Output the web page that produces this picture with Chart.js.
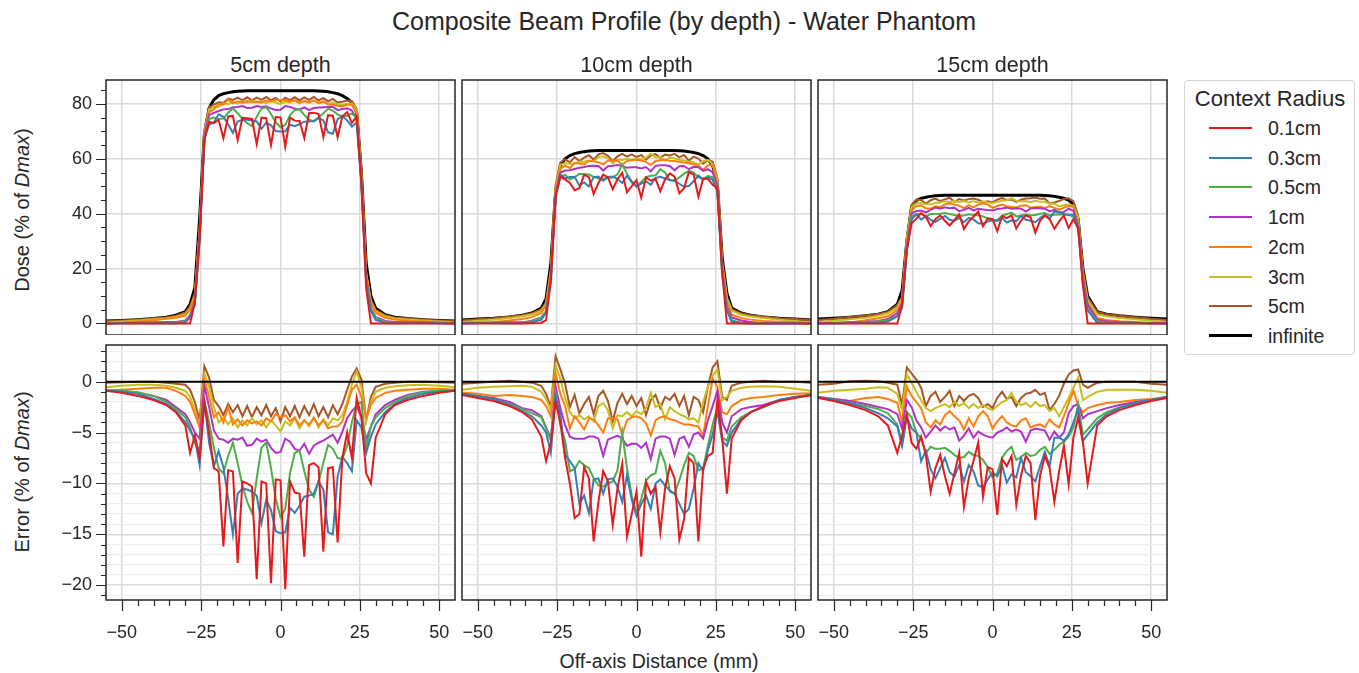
<!DOCTYPE html>
<html>
<head>
<meta charset="utf-8">
<title>Composite Beam Profile</title>
<script src="https://cdn.jsdelivr.net/npm/chart.js@4.4.1/dist/chart.umd.min.js"></script>
<style>
  body { margin: 0; background: #fff; }
  #fig { position: relative; width: 1359px; height: 673px; overflow: hidden;
         font-family: "Liberation Sans", Arial, sans-serif; color: #262626; }
  #fig canvas { position: absolute; }
  .txt { position: absolute; white-space: nowrap; transform: translate(-50%, -50%); }
  .rot { transform: translate(-50%, -50%) rotate(-90deg); }
  #legend { position: absolute; left: 1184px; top: 80px; width: 169px; height: 273px;
            border: 1px solid #d4d4d4; border-radius: 4px; background: #fff; }
  #legend .sw { position: absolute; left: 24px; width: 43px; }
  #legend .lab { position: absolute; left: 83px; font-size: 19.5px; transform: translateY(-50%); }
</style>
</head>
<body>
<div id="fig">
  <div class="txt" style="left:684px;top:21px;font-size:25px">Composite Beam Profile (by depth) - Water Phantom</div>
  <div class="txt rot" style="left:22px;top:210px;font-size:20px">Dose (% of <i>Dmax</i>)</div>
  <div class="txt rot" style="left:22px;top:472px;font-size:20px">Error (% of <i>Dmax</i>)</div>
  <div class="txt" style="left:659px;top:661px;font-size:19.5px">Off-axis Distance (mm)</div>
  <div id="legend"></div>
</div>

<script>
// off-axis positions (mm) shared by every curve
const offAxis = [
  -55, -50, -45, -40, -36, -33, -30, -28.5, -27, -25.5, -24, -22.5, -21,
  -19.5, -18, -16.5, -15, -13.5, -12, -10.5, -9, -7.5, -6, -4.5, -3, -1.5,
  0, 1.5, 3, 4.5, 6, 7.5, 9, 10.5, 12, 13.5, 15, 16.5, 18,
  19.5, 21, 22.5, 24, 25.5, 27, 28.5, 30, 33, 36, 40, 45, 50, 55
];

const radii = ['0.1cm', '0.3cm', '0.5cm', '1cm', '2cm', '3cm', '5cm', 'infinite'];
const radiusColors = ['#e41a1c', '#377eb8', '#4daf4a', '#b232c8', '#ff7f0e', '#c8be1e', '#a65628', '#000000'];
const depthTitles = ['5cm depth', '10cm depth', '15cm depth'];

// ---- 5cm depth: dose (% of Dmax) ----
const dose5_01 = [0,0,0,0,0,0,0,0,7.7,30.5,67,73.5,73,
  74.2,67.5,75.4,75.6,66.8,74.9,74.8,74.5,65.4,75,74.8,65,75.2,
  75.1,64.4,75,73.9,73.8,67.6,76.6,76.8,76.3,67.9,75.9,75.7,67.9,
  75.5,77,73,75.4,51.5,13,0,0,0,0,0,0,0,0];
const dose5_03 = [0,0.1,0.2,0.1,0.1,0.1,0.3,2.2,7.4,29.8,67.1,72.5,73.2,
  76.2,75.3,72.6,69.4,73.6,74.2,74.2,74,73.6,70.9,73.2,72.2,70.1,
  69.9,70,72.4,71.9,72.6,73.5,73.6,73.8,74.9,74,69.6,69.1,74.4,
  75.6,74,71.7,73.2,50.5,15,4.6,1.3,0.2,0.1,0.2,0.2,0.1,0];
const dose5_05 = [0.05,0.2,0.35,0.4,0.3,0.3,0.8,2.5,7,31.2,67.2,74.5,75,
  74.5,74.7,76.8,78.4,76.6,74.5,73,71.9,75.3,78.3,78.8,76.3,73.3,
  71.5,72.3,75.8,77.8,78,76,74.2,73.5,74.9,76.6,78.2,77.5,76.2,
  75.4,75.7,76.5,74.8,53,15.4,5.6,2,0.6,0.3,0.4,0.35,0.2,0.05];
const dose5_1 = [0,0.2,0.3,0.4,0.5,0.5,1.1,3,8,32.4,68.6,76,76.7,
  77.4,78,78.1,78.8,78.9,79.2,78.5,78.6,79.2,78.9,79.1,78.3,77.8,
  77.9,79.2,78.9,78.2,78,78.7,77.7,78.5,78.7,78.8,78.9,78.9,77.7,
  78.1,78.4,77.6,74.6,51.5,16.3,5.6,2.3,0.9,0.5,0.5,0.4,0.2,0];
const dose5_2 = [0,0.3,0.7,1.2,1.7,2.1,2.9,5,9.8,33.5,69.2,77,78,
  80,79.7,81.6,80.2,80.9,80.4,81,80.7,80.9,80.5,81.2,80.9,81.6,
  81.3,81.5,80.9,81.3,80.5,81,80.6,81.2,80.4,80.8,79.8,79.7,79.3,
  79.1,79.7,79.7,76.7,53.5,18.5,7.7,3.9,2.1,1.4,1,0.7,0.4,0.1];
const dose5_3 = [0.35,0.7,1.1,1.5,1.9,2.4,3.4,5.5,10.2,33.6,69.8,78,79,
  79,80.2,79.9,80.8,80.1,80.9,80.5,81.2,80.6,81,80.3,81,80.5,
  79.9,80.9,80.5,81.2,80.2,81,80.4,81.3,80.2,80.9,80.1,80.5,79.9,
  79.7,80,80.2,78,54.5,18.1,8,4.5,2.6,1.85,1.45,1.1,0.7,0.35];
const dose5_5 = [0.8,1.05,1.4,1.8,2.2,2.8,4,6.2,11,34.2,70.5,78.9,79.7,
  80.6,80.4,81.9,81.4,82.3,81.3,82.4,81.3,82.3,81.5,82.5,81.4,82.2,
  80.9,82.3,81.4,82.4,81.3,82.4,81.5,82.5,81.3,82.1,80.9,81.8,80.5,
  80.8,81.2,81,78.3,55.2,18.2,8.5,5,3,2.2,1.8,1.4,1.05,0.8];
const dose5_inf = [0.9,1.1,1.4,1.8,2.3,3.0,4.3,7,13,38,69,78.5,81.5,
  83,83.7,84.1,84.4,84.6,84.7,84.8,84.8,84.8,84.8,84.8,84.8,84.8,
  84.8,84.8,84.8,84.8,84.8,84.8,84.8,84.8,84.7,84.6,84.4,84.1,83.7,
  83.0,82.0,80.5,77,55,22,10,5.5,3.2,2.3,1.8,1.4,1.1,0.9];

// ---- 5cm depth: error (% of Dmax) ----
const err5_01 = [-0.9,-1.1,-1.4,-1.8,-2.3,-3.0,-4.3,-7.0,-5.3,-7.5,-2.0,-5.0,-8.5,
  -8.8,-16.2,-8.7,-8.8,-17.8,-9.8,-10.0,-10.3,-19.4,-9.8,-10.0,-19.8,-9.6,
  -9.7,-20.4,-9.8,-10.9,-11.0,-17.2,-8.2,-8.0,-8.4,-16.7,-8.5,-8.4,-15.8,
  -7.5,-5.0,-7.5,-1.6,-3.5,-9.0,-10.0,-5.5,-3.2,-2.3,-1.8,-1.4,-1.1,-0.9];
const err5_03 = [-0.9,-1.0,-1.2,-1.7,-2.2,-2.9,-4.0,-4.8,-5.6,-8.2,-1.9,-6.0,-8.3,
  -6.8,-8.4,-11.5,-15.0,-11.0,-10.5,-10.6,-10.8,-11.2,-13.9,-11.6,-12.6,-14.7,
  -14.9,-14.8,-12.4,-12.9,-12.2,-11.3,-11.2,-11.0,-9.8,-10.6,-14.8,-15.0,-9.3,
  -7.4,-8.0,-8.8,-3.8,-4.5,-7.0,-5.4,-4.2,-3.0,-2.2,-1.6,-1.2,-1.0,-0.9];
const err5_05 = [-0.85,-0.9,-1.05,-1.4,-2.0,-2.7,-3.5,-4.5,-6.0,-6.8,-1.8,-4.0,-6.5,
  -8.5,-9.0,-7.3,-6.0,-8.0,-10.2,-11.8,-12.9,-9.5,-6.5,-6.0,-8.5,-11.5,
  -13.3,-12.5,-9.0,-7.0,-6.8,-8.8,-10.6,-11.3,-9.8,-8.0,-6.2,-6.6,-7.5,
  -7.6,-6.3,-4.0,-2.2,-2.0,-6.6,-4.4,-3.5,-2.6,-2.0,-1.4,-1.05,-0.9,-0.85];
const err5_1 = [-0.9,-0.9,-1.1,-1.4,-1.8,-2.5,-3.2,-4.0,-5.0,-5.6,-0.4,-2.5,-4.8,
  -5.6,-5.7,-6.0,-5.6,-5.7,-5.5,-6.3,-6.2,-5.6,-5.9,-5.7,-6.5,-7.0,
  -6.9,-5.6,-5.9,-6.6,-6.8,-6.1,-7.1,-6.3,-6.0,-5.8,-5.5,-5.2,-6.0,
  -4.9,-3.6,-2.9,-2.4,-3.5,-5.7,-4.4,-3.2,-2.3,-1.8,-1.3,-1.0,-0.9,-0.9];
const err5_2 = [-0.9,-0.8,-0.7,-0.6,-0.6,-0.9,-1.4,-2.0,-3.2,-4.5,0.2,-1.5,-3.5,
  -3.0,-4.0,-2.5,-4.2,-3.7,-4.3,-3.8,-4.1,-3.9,-4.3,-3.6,-3.9,-3.2,
  -3.5,-3.3,-3.9,-3.5,-4.3,-3.8,-4.2,-3.6,-4.3,-3.8,-4.6,-4.4,-4.4,
  -3.9,-2.3,-0.8,-0.3,-1.5,-3.5,-2.3,-1.6,-1.1,-0.9,-0.8,-0.7,-0.7,-0.8];
const err5_3 = [-0.55,-0.4,-0.3,-0.3,-0.4,-0.6,-0.9,-1.5,-2.8,-4.4,0.8,-0.5,-2.5,
  -4.0,-3.5,-4.2,-3.6,-4.5,-3.8,-4.3,-3.6,-4.2,-3.8,-4.5,-3.8,-4.3,
  -4.9,-3.9,-4.3,-3.6,-4.6,-3.8,-4.4,-3.5,-4.5,-3.7,-4.3,-3.6,-3.8,
  -3.3,-2.0,-0.3,1.0,-0.5,-3.9,-2.0,-1.0,-0.6,-0.45,-0.35,-0.3,-0.4,-0.55];
const err5_5 = [-0.1,-0.05,0,0,-0.1,-0.2,-0.3,-0.8,-2.0,-3.8,1.5,0.4,-1.8,
  -2.4,-3.3,-2.2,-3.0,-2.3,-3.4,-2.4,-3.5,-2.5,-3.3,-2.3,-3.4,-2.6,
  -3.9,-2.5,-3.4,-2.4,-3.5,-2.4,-3.3,-2.2,-3.4,-2.5,-3.5,-2.3,-3.2,
  -2.2,-0.8,0.5,1.3,0.2,-3.8,-1.5,-0.5,-0.2,-0.1,0,0,-0.05,-0.1];

// ---- 10cm depth: dose ----
const dose10_01 = [0,0,0,0,0,0.1,0.2,1.2,16,46,53.5,52.5,51.2,
  48.5,49.3,54.2,53.3,47.2,51.2,54.2,53.2,48.9,52.5,54.9,47.8,50,
  52.2,45.8,53.2,52,52.7,48.2,52.5,54.7,53.5,47.4,49.3,55.1,54.3,
  46.2,52.7,52.7,50.5,49.2,18.5,0,0,0,0,0,0,0,0];
const dose10_03 = [0.1,0.2,0.2,0.1,0.1,0.4,1.3,4,15,46.5,54.3,52.8,53.4,
  53.4,50.3,51.4,49.9,53.3,53.5,52,53.4,53.5,52.7,51.2,53.8,51.4,
  49.8,51,51.8,50.5,53,53.4,52.8,52.3,52,50.9,49.8,50.1,51.8,
  53.9,52.4,53.3,52.3,48.1,18.2,4.7,0.6,0.1,0,0,0.1,0.1,0];
const dose10_05 = [0.1,0.2,0.2,0.2,0.3,0.7,2.1,4.4,16.2,46.8,53.2,54.2,52.4,
  53.3,54.5,54.4,54.3,53.4,52.8,52.7,53,53.2,54.3,58,54.5,51.8,
  50.1,51.5,53.3,53.8,54,56.2,55,52.2,52,53.2,54.6,55.6,55,
  53.2,52.7,53.7,53.3,48.5,18.5,5.2,1.2,0.3,0,0,0.1,0.1,0];
const dose10_1 = [0.1,0.2,0.3,0.4,0.4,1.0,2.2,4.5,16.4,47.5,54.9,55.7,55.8,
  56.3,56.7,57,57.4,57.5,57.4,55.7,57.3,57.5,57.7,57.4,56.7,56.9,
  56.9,56.5,57,55.4,57.4,57.6,57.6,57.4,55.8,57.3,57.4,56.2,57.1,
  56.9,55.6,56.2,55.1,50.1,20,6,2.2,1.1,0.5,0.1,0.1,0.1,0];
const dose10_2 = [0.2,0.4,0.5,1.1,1.6,2.3,3.8,6.6,18.6,48.8,56.3,57.6,56.6,
  58.5,58.3,57.9,59.2,59.2,58.7,58,59.4,59.4,59.3,57.8,59.2,59.5,
  59.6,59.4,58.9,57.7,59.2,59.5,59.6,59.3,59.2,58.9,58.6,58.4,58,
  57.5,55.9,57.6,57.8,50.5,21,7.8,3.2,2,1.4,0.9,0.6,0.4,0.15];
const dose10_3 = [0.5,1.0,1.4,1.95,2.6,3.3,4.6,7.3,19.2,49.6,57.8,58.4,58.2,
  58.3,59,58.9,59.4,59,60.6,60.9,60.2,58.4,59.7,59.6,60,59.6,
  60.1,59.8,60.4,61.9,60.5,60.8,59.3,60.5,60.1,59.7,59.4,58.9,58.7,
  57.9,59.2,59.5,58.1,52.2,22.2,9.5,4.7,3.2,2.5,1.95,1.4,0.9,0.4];
const dose10_5 = [1.1,1.5,1.9,2.5,3.0,3.7,5.2,7.8,19.5,50.5,58.7,59.8,58.7,
  60.6,59.2,60.4,61.3,59.7,61.6,62.1,61.1,59.1,60.9,61.8,60.8,61.6,
  60.6,61.4,59.7,61.2,61.7,60.4,61.5,61.2,61.8,60.5,61.4,59.3,60.8,
  60.1,58.2,59.5,58.9,53,22.5,9.2,5.2,3.7,3.0,2.5,1.9,1.6,1.2];
const dose10_inf = [1.3,1.6,1.9,2.4,3.0,3.8,5.6,9,22,48,57.5,60,61.2,
  61.9,62.3,62.6,62.8,62.9,63,63,63,63,63,63,63,63,
  63,63,63,63,63,63,63,63,63,62.9,62.8,62.6,62.3,
  61.9,61.2,60,57.5,51,24,11,5.6,3.8,3.0,2.4,1.9,1.6,1.3];

// ---- 10cm depth: error ----
const err10_01 = [-1.3,-1.6,-1.9,-2.4,-3.0,-3.7,-5.4,-7.8,-6.0,-2.0,-4.0,-7.5,-10.0,
  -13.4,-13.0,-8.4,-9.5,-15.7,-11.8,-8.8,-9.8,-14.1,-10.5,-8.1,-15.2,-13.0,
  -10.8,-17.2,-9.8,-11.0,-10.3,-14.8,-10.5,-8.3,-9.5,-15.5,-13.5,-7.5,-8.0,
  -15.7,-8.5,-7.3,-7.0,-1.8,-5.5,-11.0,-5.6,-3.8,-3.0,-2.4,-1.9,-1.6,-1.3];
const err10_03 = [-1.2,-1.4,-1.7,-2.3,-2.9,-3.4,-4.3,-5.0,-7.0,-1.5,-3.2,-7.2,-7.8,
  -8.5,-12.0,-11.2,-12.9,-9.6,-9.5,-11.0,-9.6,-9.5,-10.3,-11.8,-9.2,-11.6,
  -13.2,-12.0,-11.2,-12.5,-10.0,-9.6,-10.2,-10.7,-11.0,-12.0,-13.0,-12.5,-10.5,
  -8.0,-8.8,-6.7,-5.2,-2.9,-5.8,-6.3,-5.0,-3.7,-3.0,-2.5,-1.8,-1.5,-1.3];
const err10_05 = [-1.2,-1.4,-1.7,-2.2,-2.7,-3.1,-3.5,-4.6,-5.8,-1.2,-4.3,-5.8,-8.8,
  -8.6,-7.8,-8.2,-8.5,-9.5,-10.2,-10.3,-10.0,-9.8,-8.7,-5.0,-8.5,-11.2,
  -12.9,-11.5,-9.7,-9.2,-9.0,-6.8,-8.0,-10.8,-11.0,-9.7,-8.2,-7.0,-7.3,
  -8.7,-8.5,-6.3,-4.2,-2.5,-5.5,-5.8,-4.4,-3.5,-3.0,-2.5,-1.8,-1.5,-1.3];
const err10_1 = [-1.2,-1.4,-1.6,-2.0,-2.6,-2.8,-3.4,-4.5,-5.6,-0.5,-2.6,-4.3,-5.4,
  -5.6,-5.6,-5.6,-5.4,-5.4,-5.6,-7.3,-5.7,-5.5,-5.3,-5.6,-6.3,-6.1,
  -6.1,-6.5,-6.0,-7.6,-5.6,-5.4,-5.4,-5.6,-7.2,-5.6,-5.4,-6.4,-5.2,
  -5.0,-5.6,-3.8,-2.4,-0.9,-4.0,-5.0,-3.4,-2.7,-2.5,-2.3,-1.8,-1.5,-1.3];
const err10_2 = [-1.1,-1.2,-1.4,-1.3,-1.4,-1.5,-1.8,-2.4,-3.4,0.8,-1.2,-2.4,-4.6,
  -3.4,-4.0,-4.7,-3.6,-3.7,-4.3,-5.0,-3.6,-3.6,-3.7,-5.2,-3.8,-3.5,
  -3.4,-3.6,-4.1,-5.3,-3.8,-3.5,-3.4,-3.7,-3.8,-4.0,-4.2,-4.2,-4.3,
  -4.4,-5.3,-2.4,0.3,-0.5,-3.0,-3.2,-2.4,-1.8,-1.6,-1.5,-1.3,-1.2,-1.15];
const err10_3 = [-0.8,-0.6,-0.5,-0.45,-0.4,-0.5,-1.0,-1.7,-2.8,1.6,0.3,-1.6,-3.0,
  -3.6,-3.3,-3.7,-3.4,-3.9,-2.4,-2.1,-2.8,-4.6,-3.3,-3.4,-3.0,-3.4,
  -2.9,-3.2,-2.6,-1.1,-2.5,-2.2,-3.7,-2.5,-2.9,-3.2,-3.4,-3.7,-3.6,
  -4.0,-2.0,-0.5,0.6,1.2,-1.8,-1.5,-0.9,-0.6,-0.5,-0.45,-0.5,-0.7,-0.9];
const err10_5 = [-0.2,-0.1,0,0.1,0,-0.1,-0.4,-1.2,-2.5,2.5,1.2,-0.2,-2.5,
  -1.3,-3.1,-2.2,-1.5,-3.2,-1.4,-0.9,-1.9,-3.9,-2.1,-1.2,-2.2,-1.4,
  -2.4,-1.6,-3.3,-1.8,-1.3,-2.6,-1.5,-1.8,-1.2,-2.4,-1.4,-3.3,-1.5,
  -1.8,-3.0,-0.5,1.4,2.0,-1.5,-1.8,-0.4,-0.1,0,0.1,0,0,-0.1];

// ---- 15cm depth: dose ----
const dose15_01 = [0,0,0,0,0,0,0,6.7,26.8,36.5,38.2,40.2,38.8,
  35.5,38,39.4,37.4,35.7,37.7,39.7,34.4,37.2,38.9,40.7,35.4,38.3,
  38.1,33.6,39.1,38.4,39.4,34.6,37.5,39.4,38.7,33.1,37.5,39.3,38,
  34.5,37.2,39.3,34.8,38,34.5,14,0,0,0,0,0,0,0];
const dose15_03 = [0.1,0.1,0.2,0.2,0.3,0.7,2.6,5.7,26.5,37.9,39.8,37.8,39.2,
  37.7,37,38.1,39.2,37.8,37.4,38.5,36.9,38.5,37.9,36.5,36.3,37.1,
  37.8,37.4,38.5,36.8,37.6,37.3,39.2,37.8,37.4,36.9,38.4,39.7,38.2,
  40.8,40.5,39.8,39.7,39.5,35.2,14.2,4.8,0.3,0.2,0.2,0.2,0.1,0.1];
const dose15_05 = [0.1,0.1,0.2,0.4,0.7,1.2,2.8,5.8,27,39,39.8,40,39,
  39.9,39.9,40,40.2,39.9,39.5,39.2,39.3,39.8,39.5,39.4,39,38.3,
  37.3,37.7,39.2,39.9,40.3,39,39.3,39.7,39.4,39.5,40,40.2,39.4,
  39.6,39.8,39.7,39.5,39,35.8,14.8,5.3,0.7,0.4,0.3,0.2,0.1,0.1];
const dose15_1 = [0.1,0.2,0.4,0.6,0.9,1.6,3.8,7.4,28.2,40,41,41.1,40.5,
  41.4,42.2,41.8,42.3,42,42.2,40.9,41.4,42.1,41.2,41.8,41.5,41.3,
  41.2,41.7,41.9,42.2,41.8,42,41.8,40.8,41.9,42.1,42,41.8,40.8,
  41.4,40.5,40.6,41.8,41.1,35.8,16.4,6.8,1.4,0.8,0.5,0.3,0.1,0.1];
const dose15_2 = [0.1,0.2,0.4,1.2,1.9,2.6,4.9,8,29.5,41.1,42.8,43,42,
  41.8,42.7,42.4,43.4,43.8,43.3,42.9,42,43.1,42.3,43.3,43.8,43.3,
  42.1,42.8,43.3,42.7,42.4,42.3,42.9,43.1,42.2,42.4,42.5,42.1,42.8,
  42.1,41.5,42.2,42.8,42.6,35.7,17,7.4,2,1.3,0.8,0.5,0.2,0.1];
const dose15_3 = [0.5,1.0,1.5,2.1,2.85,3.7,5.8,9.2,30.7,42.4,43.8,43.8,43.4,
  43.4,43.9,44.2,44.5,44.2,44.7,44.3,44.6,44.1,44.5,44.1,44.4,44.1,
  43.9,44.3,44.7,44.9,45.6,44.7,44.4,44.6,44.2,44.7,44.3,44.3,43.6,
  43.7,42.6,43.1,43.3,42.9,38.4,18.2,8.5,3.3,2.6,2.0,1.5,1.0,0.5];
const dose15_5 = [1.3,1.7,2.35,2.9,3.45,4.2,6.7,9.7,31.4,43.3,45,45,43.6,
  44.9,45.5,44.6,45.2,45.8,44.3,45.3,44.8,45.3,45.5,45.1,44.2,44.5,
  44.1,45.1,45.7,45,45.2,44.3,45.1,45.5,45.6,45.9,45.4,45.5,43.7,
  44.1,44.6,45.4,45.6,44.6,39.2,19.7,9.4,4.2,3.4,2.8,2.3,1.7,1.3];
const dose15_inf = [1.6,1.9,2.3,2.8,3.4,4.3,7.0,12,30,42.5,44.8,45.6,46.0,
  46.3,46.5,46.6,46.7,46.7,46.7,46.7,46.7,46.7,46.7,46.7,46.7,46.7,
  46.7,46.7,46.7,46.7,46.7,46.7,46.7,46.7,46.7,46.7,46.7,46.6,46.5,
  46.3,46.0,45.6,44.9,43.5,38,20,10,4.3,3.4,2.8,2.3,1.9,1.6];

// ---- 15cm depth: error ----
const err15_01 = [-1.6,-1.9,-2.3,-2.8,-3.4,-4.3,-7.0,-5.3,-3.2,-6.0,-6.6,-5.4,-7.2,
  -10.8,-8.5,-7.2,-9.3,-11.0,-9.0,-7.0,-12.3,-9.5,-7.8,-6.0,-11.3,-8.4,
  -8.6,-13.1,-7.6,-8.3,-7.3,-12.1,-9.2,-7.3,-8.0,-13.6,-9.2,-7.3,-8.5,
  -11.8,-8.8,-6.3,-10.1,-5.5,-3.5,-6.0,-10.0,-4.3,-3.4,-2.8,-2.3,-1.9,-1.6];
const err15_03 = [-1.5,-1.8,-2.1,-2.6,-3.1,-3.6,-4.4,-6.3,-3.5,-4.6,-5.0,-7.8,-6.8,
  -8.6,-9.5,-8.5,-7.5,-8.9,-9.3,-8.2,-9.8,-8.2,-8.8,-10.2,-10.4,-9.6,
  -8.9,-9.3,-8.2,-9.9,-9.1,-9.4,-7.5,-8.9,-9.3,-9.8,-8.3,-6.9,-8.3,
  -5.5,-5.5,-5.8,-5.2,-4.0,-2.8,-5.8,-5.2,-4.0,-3.2,-2.6,-2.1,-1.8,-1.5];
const err15_05 = [-1.5,-1.8,-2.1,-2.4,-2.7,-3.1,-4.2,-6.2,-3.0,-3.5,-5.0,-5.6,-7.0,
  -6.4,-6.6,-6.6,-6.5,-6.8,-7.2,-7.5,-7.4,-6.9,-7.2,-7.3,-7.7,-8.4,
  -9.4,-9.0,-7.5,-6.8,-6.4,-7.7,-7.4,-7.0,-7.3,-7.2,-6.7,-6.4,-7.1,
  -6.7,-6.2,-5.9,-5.4,-4.5,-2.2,-5.2,-4.7,-3.6,-3.0,-2.5,-2.1,-1.8,-1.5];
const err15_1 = [-1.5,-1.7,-1.9,-2.2,-2.5,-2.7,-3.2,-4.6,-1.8,-2.5,-3.8,-4.5,-5.5,
  -4.9,-4.3,-4.8,-4.4,-4.7,-4.5,-5.8,-5.3,-4.6,-5.5,-4.9,-5.2,-5.4,
  -5.5,-5.0,-4.8,-4.5,-4.9,-4.7,-4.9,-5.9,-4.8,-4.6,-4.7,-4.8,-5.7,
  -4.9,-5.5,-5.0,-3.1,-2.4,-2.2,-3.6,-3.2,-2.9,-2.6,-2.3,-2.0,-1.8,-1.5];
const err15_2 = [-1.5,-1.7,-1.9,-1.6,-1.5,-1.7,-2.1,-4.0,-0.5,-1.4,-2.0,-2.6,-4.0,
  -4.5,-3.8,-4.2,-3.3,-2.9,-3.4,-3.8,-4.7,-3.6,-4.4,-3.4,-2.9,-3.4,
  -4.6,-3.9,-3.4,-4.0,-4.3,-4.4,-3.8,-3.6,-4.5,-4.3,-4.2,-4.5,-3.7,
  -4.2,-4.5,-3.4,-2.1,-0.9,-2.3,-3.0,-2.6,-2.3,-2.1,-2.0,-1.8,-1.7,-1.5];
const err15_3 = [-1.1,-0.9,-0.8,-0.7,-0.55,-0.6,-1.2,-2.8,0.7,-0.1,-1.0,-1.8,-2.6,
  -2.9,-2.6,-2.4,-2.2,-2.5,-2.0,-2.4,-2.1,-2.6,-2.2,-2.6,-2.3,-2.6,
  -2.8,-2.4,-2.0,-1.8,-1.1,-2.0,-2.3,-2.1,-2.5,-2.0,-2.4,-2.3,-2.9,
  -2.6,-3.4,-2.5,-1.6,-0.6,0.4,-1.8,-1.5,-1.0,-0.8,-0.8,-0.8,-0.9,-1.1];
const err15_5 = [-0.3,-0.2,0.05,0.1,0.05,-0.1,-0.3,-2.3,1.4,0.8,0.2,-0.6,-2.4,
  -1.4,-1.0,-2.0,-1.5,-0.9,-2.4,-1.4,-1.9,-1.4,-1.2,-1.6,-2.5,-2.2,
  -2.6,-1.6,-1.0,-1.7,-1.5,-2.4,-1.6,-1.2,-1.1,-0.8,-1.3,-1.1,-2.8,
  -2.2,-1.4,-0.2,0.7,1.1,1.2,-0.3,-0.6,-0.1,0,0,0,-0.2,-0.3];

// the infinite-radius reference has zero error everywhere
const errInfX = [-55, 55];
const errInf = [0, 0];

// axis ticks
const xMajor = [-50, -25, 0, 25, 50];
const xMinor = [-45, -40, -35, -30, -20, -15, -10, -5, 5, 10, 15, 20, 30, 35, 40, 45];
const doseMajor = [0, 20, 40, 60, 80];
const doseMinor = [5, 10, 15, 25, 30, 35, 45, 50, 55, 65, 70, 75, 85];
const errMajor = [-20, -15, -10, -5, 0];
const errMinor = [-21, -19, -18, -17, -16, -14, -13, -12, -11, -9, -8, -7, -6, -4, -3, -2, -1, 1, 2, 3];

const doseSets = [
  [dose5_01, dose5_03, dose5_05, dose5_1, dose5_2, dose5_3, dose5_5, dose5_inf],
  [dose10_01, dose10_03, dose10_05, dose10_1, dose10_2, dose10_3, dose10_5, dose10_inf],
  [dose15_01, dose15_03, dose15_05, dose15_1, dose15_2, dose15_3, dose15_5, dose15_inf]
];
const errSets = [
  [err5_01, err5_03, err5_05, err5_1, err5_2, err5_3, err5_5],
  [err10_01, err10_03, err10_05, err10_1, err10_2, err10_3, err10_5],
  [err15_01, err15_03, err15_05, err15_1, err15_2, err15_3, err15_5]
];

// panel frames on the page
const colLeft = [106, 462, 818];
const rowTop = [80, 345];
const panelW = 349, panelH = 255;
const axisW = 60, axisH = 45;

const INK = '#262626';
const FONT = '"Liberation Sans", Arial, sans-serif';
const fmt = v => (v < 0 ? '\u2212' : '') + Math.abs(v);

// frame around the plot area plus major/minor tick marks
const framePlugin = {
  id: 'frame',
  afterDraw(chart, args, o) {
    const { ctx, chartArea: a } = chart;
    const sx = chart.scales.x, sy = chart.scales.y;
    ctx.save();
    ctx.strokeStyle = INK;
    ctx.lineWidth = 1.2;
    ctx.beginPath();
    const yTick = (v, len) => {
      const p = Math.round(sy.getPixelForValue(v)) + 0.5;
      ctx.moveTo(a.left - len, p); ctx.lineTo(a.left, p);
    };
    const xTick = (v, len) => {
      const p = Math.round(sx.getPixelForValue(v)) + 0.5;
      ctx.moveTo(p, a.bottom); ctx.lineTo(p, a.bottom + len);
    };
    if (o.yMajor) { o.yMajor.forEach(v => yTick(v, 10)); o.yMinor.forEach(v => yTick(v, 5)); }
    if (o.xTicks) { xMajor.forEach(v => xTick(v, 11)); xMinor.forEach(v => xTick(v, 6)); }
    ctx.stroke();
    ctx.lineWidth = 1.5;
    ctx.strokeRect(a.left, a.top, a.right - a.left, a.bottom - a.top);
    ctx.restore();
  }
};

function series(label, color, xs, ys, width) {
  return {
    label: label,
    data: xs.map((x, i) => ({ x: x, y: ys[i] })),
    borderColor: color,
    borderWidth: width,
    pointRadius: 0,
    tension: 0,
    fill: false
  };
}

function makePanel(row, col, datasets) {
  const fig = document.getElementById('fig');
  const cv = document.createElement('canvas');
  const w = axisW + panelW + 2;
  const h = panelH + 2 + (row ? axisH : 0);
  cv.width = w; cv.height = h;
  cv.style.width = w + 'px'; cv.style.height = h + 'px';
  cv.style.left = (colLeft[col] - axisW) + 'px';
  cv.style.top = (rowTop[row] - 2) + 'px';
  fig.appendChild(cv);

  const isDose = row === 0;
  new Chart(cv.getContext('2d'), {
    type: 'line',
    data: { datasets: datasets },
    plugins: [framePlugin],
    options: {
      responsive: false,
      animation: false,
      devicePixelRatio: 1,
      layout: { autoPadding: false, padding: { top: 2, right: 2, left: 0, bottom: 0 } },
      plugins: {
        legend: { display: false },
        tooltip: { enabled: false },
        frame: {
          yMajor: col === 0 ? (isDose ? doseMajor : errMajor) : null,
          yMinor: col === 0 ? (isDose ? doseMinor : errMinor) : null,
          xTicks: row === 1
        }
      },
      scales: {
        x: {
          type: 'linear',
          min: -55, max: 55,
          border: { display: false },
          grid: { drawTicks: false, color: '#dadada', lineWidth: 1.5 },
          ticks: {
            display: row === 1, stepSize: 25, autoSkip: false, maxRotation: 0, includeBounds: false,
            padding: 22, color: INK, font: { family: FONT, size: 18 },
            callback: v => fmt(v)
          },
          afterFit: s => {
            s.height = row ? axisH : 0;
            s.paddingLeft = 0; s.paddingRight = 0;
          }
        },
        y: {
          type: 'linear',
          // bounds chosen so the span is not a whole number of steps,
          // which keeps the ticks on round values
          min: isDose ? -4.2 : -21.45,
          max: isDose ? 88.7 : 3.6,
          border: { display: false },
          grid: {
            drawTicks: false,
            color: c => {
              const v = c.tick.value;
              if (isDose) return v % 20 === 0 ? '#dadada' : 'rgba(0,0,0,0)';
              return v % 5 === 0 ? '#dadada' : '#eeeeee';
            },
            lineWidth: c => (c.tick.value % 5 === 0 ? 1.5 : 1.2)
          },
          ticks: {
            display: col === 0, stepSize: isDose ? 5 : 1, autoSkip: false, includeBounds: false,
            padding: 14, color: INK, font: { family: FONT, size: 18 },
            callback: v => (isDose ? (v % 20 === 0 ? fmt(v) : '') : (v % 5 === 0 ? fmt(v) : ''))
          },
          afterFit: s => {
            s.width = axisW;
            s.paddingTop = 0; s.paddingBottom = 0;
          }
        }
      }
    }
  });
}

for (let c = 0; c < 3; c++) {
  const top = doseSets[c].map((ys, k) =>
    series(radii[k], radiusColors[k], offAxis, ys, k === 7 ? 3 : 2));
  makePanel(0, c, top);

  const bottom = errSets[c].map((ys, k) =>
    series(radii[k], radiusColors[k], offAxis, ys, 2));
  const zero = series(radii[7], radiusColors[7], errInfX, errInf, 2);
  zero.order = -1;
  bottom.push(zero);
  makePanel(1, c, bottom);

  const t = document.createElement('div');
  t.className = 'txt';
  t.style.left = (colLeft[c] + panelW / 2) + 'px';
  t.style.top = '65px';
  t.style.fontSize = '21.5px';
  t.textContent = depthTitles[c];
  document.getElementById('fig').appendChild(t);
}

// legend
const lg = document.getElementById('legend');
const lt = document.createElement('div');
lt.className = 'txt';
lt.style.left = '85px'; lt.style.top = '18px'; lt.style.fontSize = '22px';
lt.textContent = 'Context Radius';
lg.appendChild(lt);
radii.forEach((name, k) => {
  const yc = 47 + k * 29.7;
  const sw = document.createElement('div');
  sw.className = 'sw';
  const th = k === 7 ? 3 : 2;
  sw.style.top = (yc - th / 2) + 'px';
  sw.style.height = th + 'px';
  sw.style.background = radiusColors[k];
  lg.appendChild(sw);
  const lab = document.createElement('div');
  lab.className = 'lab';
  lab.style.top = yc + 'px';
  lab.textContent = name;
  lg.appendChild(lab);
});
</script>
</body>
</html>
